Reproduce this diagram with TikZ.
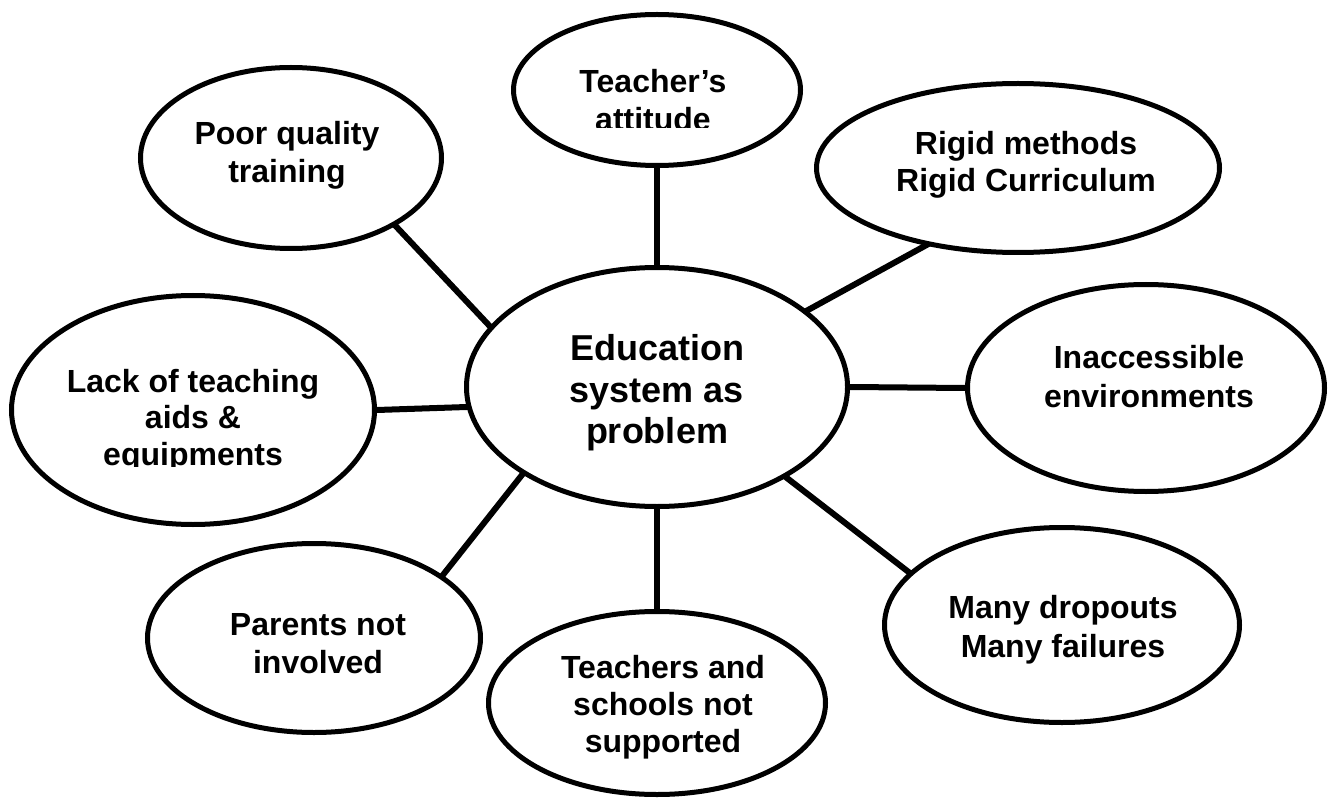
\documentclass[tikz,border=0pt]{standalone}
\usepackage{fontspec}
\setmainfont{Liberation Sans}
\usetikzlibrary{shapes.geometric,backgrounds}
\begin{document}
\begin{tikzpicture}[x=1pt,y=-1pt,
  bub/.style={draw=black, line width=5pt, ellipse, inner sep=0pt, fill=white},
  link/.style={draw=black, line width=6pt, shorten <=-5pt, shorten >=-5pt},
  lbl/.style={anchor=base, inner sep=0pt, font=\fontsize{32}{38}\selectfont\bfseries},
  clbl/.style={anchor=base, inner sep=0pt, font=\fontsize{36}{42}\selectfont\bfseries}]
\useasboundingbox (0,0) rectangle (1330,802);

% ellipses
\node[bub, minimum width=381pt, minimum height=239pt] (C)  at (657,387) {};
\node[bub, minimum width=287pt, minimum height=151pt] (T)  at (657,90)  {};
\node[bub, minimum width=301pt, minimum height=181pt] (P)  at (291,158) {};
\node[bub, minimum width=403pt, minimum height=169pt] (R)  at (1018,168) {};
\node[bub, minimum width=357pt, minimum height=207pt] (I)  at (1146,388) {};
\node[bub, minimum width=363pt, minimum height=229pt] (L)  at (193,410) {};
\node[bub, minimum width=333pt, minimum height=189pt] (Pa) at (314,638) {};
\node[bub, minimum width=337pt, minimum height=183pt] (Ts) at (657,703) {};
\node[bub, minimum width=355pt, minimum height=195pt] (M)  at (1062,625) {};

% connectors
\begin{scope}[on background layer]
\draw[link] (C.90)    -- (T.270);
\draw[link] (C.160.5) -- (P.-33.3);
\draw[link] (C.27.2)  -- (R.220.1);
\draw[link] (C.0)     -- (I.180);
\draw[link] (C.186.2) -- (L.0);
\draw[link] (C.213.1) -- (Pa.26.4);
\draw[link] (C.270)   -- (Ts.90);
\draw[link] (C.325.6) -- (M.161.5);
\end{scope}

% texts
\node[clbl] (c1) at (657,360) {Education};
\node[clbl] (c2) at (657,402) {system as};
\node[clbl] (c3) at (657,443) {problem};

\node[lbl] (t1) at (653,93) {Teacher’s};
\begin{scope}
\clip (500,0) rectangle (820,128);
\node[lbl] (t2) at (653,131) {attitude};
\end{scope}

\node[lbl] (p1) at (287,145) {Poor quality};
\node[lbl] (p2) at (287,183) {training};

\node[lbl] (r1) at (1026,155) {Rigid methods};
\node[lbl] (r2) at (1026,192) {Rigid Curriculum};

\node[lbl] (i1) at (1149,368) {Inaccessible};
\node[lbl] (i2) at (1149,407) {environments};

\node[lbl] (l1) at (193,392) {Lack of teaching};
\node[lbl] (l2) at (193,428) {aids \&};
\begin{scope}
\clip (0,440) rectangle (400,466);
\node[lbl] (l3) at (193,465) {equipments};
\end{scope}

\node[lbl] (a1) at (318,635) {Parents not};
\node[lbl] (a2) at (318,673) {involved};

\node[lbl] (s1) at (663,678) {Teachers and};
\node[lbl] (s2) at (663,715) {schools not};
\node[lbl] (s3) at (663,752) {supported};

\node[lbl] (m1) at (1063,618) {Many dropouts};
\node[lbl] (m2) at (1063,657) {Many failures};
\end{tikzpicture}
\end{document}
